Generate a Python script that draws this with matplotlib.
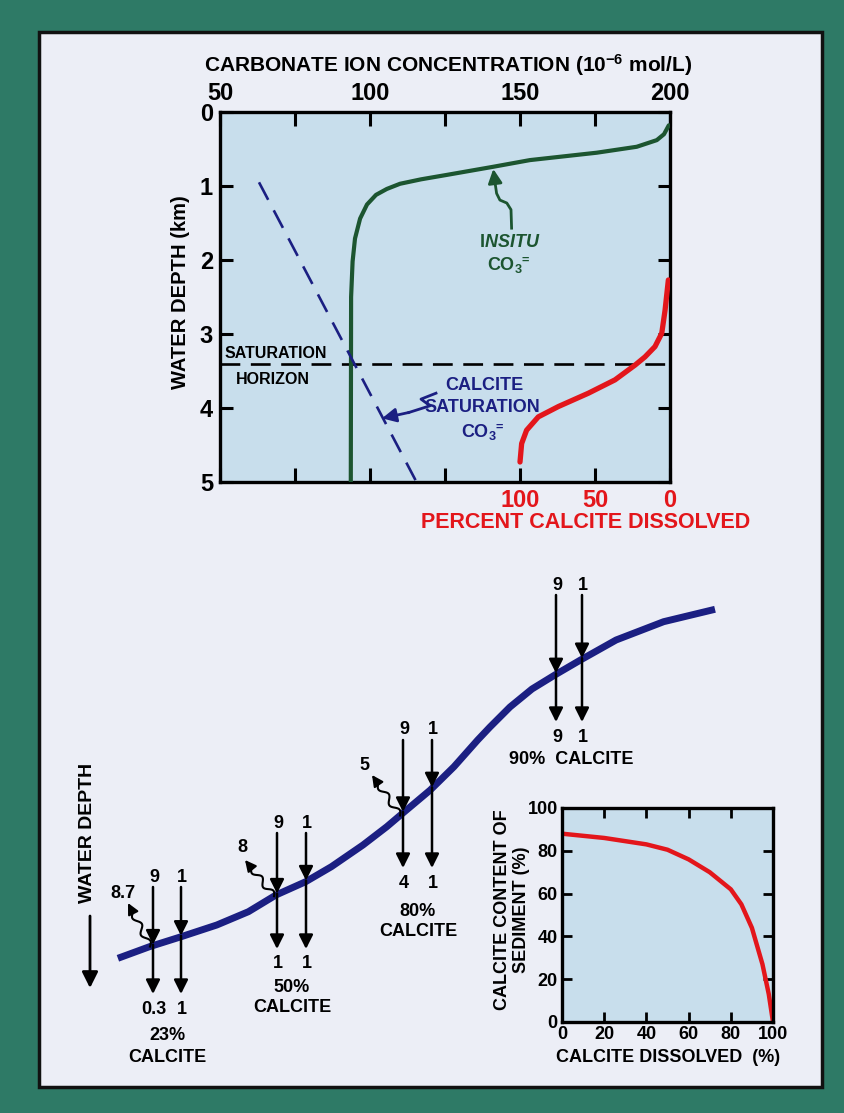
import numpy as np
import matplotlib
matplotlib.use('Agg')
import matplotlib.pyplot as plt
from matplotlib.patches import Rectangle, FancyArrowPatch

plt.rcParams['font.family'] = ['Liberation Sans', 'DejaVu Sans']
plt.rcParams['font.weight'] = 'bold'
plt.rcParams['mathtext.fontset'] = 'custom'
plt.rcParams['mathtext.rm'] = 'Liberation Sans:bold'
plt.rcParams['mathtext.it'] = 'Liberation Sans:italic:bold'
plt.rcParams['mathtext.bf'] = 'Liberation Sans:bold'
plt.rcParams['mathtext.default'] = 'rm'

# ---- data: top panel (carbonate ion vs depth)
insitu_conc = [199.6, 198, 195.6, 188.9, 175.6, 153.3, 141.1, 125.6, 117, 110, 105.6, 102, 99, 96.7, 95, 94.2, 93.7, 93.6]
insitu_depth = [0.18, 0.30, 0.38, 0.47, 0.55, 0.65, 0.74, 0.85, 0.91, 0.97, 1.04, 1.12, 1.25, 1.44, 1.71, 2.02, 2.5, 5.0]
satur_conc = [63, 115.5]
satur_depth = [0.95, 5.0]
horizon_depth = 3.41
dissolved_pct = [1.1, 3.3, 5.5, 10, 16.7, 23.3, 36.7, 54.4, 74.4, 87.8, 95.6, 98.9, 100]
dissolved_depth = [2.27, 2.68, 2.99, 3.17, 3.31, 3.42, 3.62, 3.80, 3.98, 4.12, 4.30, 4.48, 4.73]
conc_ticks = [50, 100, 150, 200]
conc_minor = [75, 125, 175]
depth_ticks = [0, 1, 2, 3, 4, 5]
pct_ticks = [100, 50, 0]

# ---- data: inset (calcite content vs dissolved)
diss_x = [0, 20, 40, 50, 60, 70, 80, 85, 90, 95, 98, 100]
content_y = [88, 86, 83, 80.5, 76, 70, 62, 55, 44, 27, 13, 0]
inset_ticks = [0, 20, 40, 60, 80, 100]

# ---- data: bottom schematic (sea floor profile, pixel units)
floor_x = [117.9, 149.5, 181.2, 216.8, 248.4, 276, 305.7, 331.4, 363, 386.8, 402.6,
           430.3, 454, 477.7, 490, 510, 532, 554.8, 580.5, 616.1, 663.6, 715]
floor_y = [958.3, 946.7, 936.7, 925, 911.7, 895, 881.7, 866.7, 845, 826.7, 813.3,
           790, 766.7, 740, 727, 707, 689, 675, 660, 640, 621.7, 609.3]
rain_left = ['9', '9', '9', '9']
rain_right = ['1', '1', '1', '1']
kept_left = ['0.3', '1', '4', '9']
kept_right = ['1', '1', '1', '1']
dissolved_lbl = ['8.7', '8', '5']
calcite_pct = ['23%', '50%', '80%', '90%']

# ---- layout (pixels)
W, H = 844, 1113
GREEN = '#2e7a66'
PANEL = '#eceef6'
AXBG = '#c8deec'
DKGREEN = '#1c5530'
NAVY = '#1b1f82'
RED = '#e3161b'

fig = plt.figure(figsize=(W / 100, H / 100), dpi=100, facecolor=GREEN)
bg = fig.add_axes([0, 0, 1, 1])
bg.set_xlim(0, W)
bg.set_ylim(H, 0)
bg.axis('off')
bg.add_patch(Rectangle((39, 32), 783, 1055, facecolor=PANEL, edgecolor='#111111', lw=2.5))


def px_axes(l, t, r, b):
    return fig.add_axes([l / W, 1 - b / H, (r - l) / W, (b - t) / H])


def arrow(a, p0, p1, color='k', lw=1.8, ms=14):
    a.add_patch(FancyArrowPatch(p0, p1, arrowstyle='-|>,head_length=0.6,head_width=0.3',
                                mutation_scale=ms, lw=lw, color=color,
                                shrinkA=0, shrinkB=0, zorder=5))


def wavy(a, p0, p1, amp=3.0, waves=2.0):
    p0 = np.array(p0, float)
    p1 = np.array(p1, float)
    d = p1 - p0
    L = np.hypot(*d)
    n = np.array([-d[1], d[0]]) / L
    t = np.linspace(0, 0.78, 60)
    off = amp * np.sin(2 * np.pi * waves * t / 0.78)
    pts = p0[None, :] + t[:, None] * d[None, :] + off[:, None] * n[None, :]
    a.plot(pts[:, 0], pts[:, 1], color='k', lw=1.5, zorder=5)
    arrow(a, tuple(pts[-1]), tuple(p1), lw=1.5, ms=11)


def co3(a, x, y, color, size=13):
    # CO3 with a small raised "=" sign (carbonate ion)
    a.annotate(r'CO$_3$', (x, y), xytext=(-4, 0), textcoords='offset points',
               fontsize=size, color=color, ha='center', va='center')
    a.annotate('=', (x, y), xytext=(8.5, 3.5), textcoords='offset points',
               fontsize=size * 0.7, color=color, ha='left', va='center')


# ================= top panel =================
ax = px_axes(220, 112, 670, 482)
ax.set_facecolor(AXBG)
ax.set_xlim(50, 200)
ax.set_ylim(5, 0)

# red percent scale shares the same box (0 % at 200, 100 % at 150)
axr = ax.twiny()
axr.set_xlim(300, 0)
axr.set_ylim(5, 0)
axr.patch.set_visible(False)
for s in axr.spines.values():
    s.set_visible(False)
axr.xaxis.set_ticks_position('bottom')
axr.set_xticks(pct_ticks)
axr.tick_params(axis='x', length=0, labelcolor=RED, labelsize=17, pad=5)
axr.plot(dissolved_pct, dissolved_depth, color=RED, lw=3.8, solid_capstyle='round', zorder=3)

for s in ax.spines.values():
    s.set_linewidth(2.4)
ax.set_xticks(conc_ticks)
ax.set_xticks(conc_minor, minor=True)
ax.set_yticks(depth_ticks)
ax.tick_params(axis='x', which='both', direction='in', top=True, bottom=True,
               labeltop=True, labelbottom=False, length=10, width=2.2, labelsize=17, pad=5)
ax.tick_params(axis='y', direction='in', left=True, right=True, length=9, width=2.2,
               labelsize=17, pad=5)

ax.plot(insitu_conc, insitu_depth, color=DKGREEN, lw=3, solid_capstyle='round',
        solid_joinstyle='round', zorder=3)
ax.plot(satur_conc, satur_depth, color=NAVY, lw=1.9, dashes=(7.5, 4.5), zorder=3)
ax.axhline(horizon_depth, color='k', lw=1.9, dashes=(7.5, 4), zorder=2)

# labels inside top panel
ax.text(68.5, 3.27, 'SATURATION', fontsize=11.5, ha='center', va='center', zorder=4)
ax.text(67.7, 3.62, 'HORIZON', fontsize=11.5, ha='center', va='center', zorder=4)
ax.text(146.7, 1.77, r'I$\mathit{NSITU}$', fontsize=13, color=DKGREEN, ha='center', va='center')
co3(ax, 146.7, 2.07, DKGREEN)
ax.text(138, 3.70, 'CALCITE', fontsize=13, color=NAVY, ha='center', va='center')
ax.text(137.5, 4.0, 'SATURATION', fontsize=13, color=NAVY, ha='center', va='center')
co3(ax, 138, 4.33, NAVY)

g_path = np.array([(147.2, 1.57), (147.0, 1.32), (145.6, 1.23), (143.3, 1.19),
                   (142.2, 1.10), (141.7, 0.96)])
ax.plot(g_path[:, 0], g_path[:, 1], color=DKGREEN, lw=2, zorder=4)
arrow(ax, tuple(g_path[-1]), (141.1, 0.77), color=DKGREEN, lw=2, ms=14)

b_path = np.array([(122, 3.80), (117, 3.88), (120, 3.97), (113, 4.06)])
ax.plot(b_path[:, 0], b_path[:, 1], color=NAVY, lw=2, zorder=4)
arrow(ax, tuple(b_path[-1]), (104, 4.14), color=NAVY, lw=2, ms=14)

bg.text(448, 65, r'CARBONATE ION CONCENTRATION (10$^{-6}$ mol/L)', fontsize=15,
        ha='center', va='center')
bg.text(180, 292, 'WATER DEPTH (km)', fontsize=14.5, rotation=90, ha='center', va='center')
bg.text(586, 523, 'PERCENT CALCITE DISSOLVED', fontsize=15.5, color=RED, ha='center', va='center')

# ================= bottom schematic =================
bg.plot(floor_x, floor_y, color=NAVY, lw=5, solid_capstyle='butt', solid_joinstyle='round', zorder=3)

left_x = [153, 277, 403, 556]
right_x = [181, 306, 432, 582]
top_y = [887, 833, 740, 595]
bot_y = [994, 949, 868, 722]
for i in range(4):
    for x, tl, bl in [(left_x[i], rain_left[i], kept_left[i]),
                      (right_x[i], rain_right[i], kept_right[i])]:
        yc = np.interp(x, floor_x, floor_y)
        arrow(bg, (x, top_y[i]), (x, yc - 1))
        arrow(bg, (x, yc - 1), (x, bot_y[i]))
        bg.text(x + 1, top_y[i] - 10, tl, fontsize=13, ha='center', va='center')
        bg.text(x + 1, bot_y[i] + 15, bl, fontsize=13, ha='center', va='center')

tips = [(128, 903), (245, 860), (372, 775)]
lbl_pos = [(123, 893), (242, 848), (364, 765)]
for i in range(3):
    yc = np.interp(left_x[i] - 3, floor_x, floor_y)
    wavy(bg, (left_x[i] - 3, yc), tips[i])
    bg.text(lbl_pos[i][0], lbl_pos[i][1], dissolved_lbl[i], fontsize=13, ha='center', va='center')

pct_pos = [(167, 1035, 1057), (292, 987, 1008), (418, 911, 932)]
for i in range(3):
    cx, y1, y2 = pct_pos[i]
    bg.text(cx, y1, calcite_pct[i], fontsize=13, ha='center', va='center')
    bg.text(cx, y2, 'CALCITE', fontsize=13, ha='center', va='center')
bg.text(571, 760, calcite_pct[3] + '  CALCITE', fontsize=13, ha='center', va='center')

bg.text(88, 833, 'WATER DEPTH', fontsize=14, rotation=90, ha='center', va='center')
arrow(bg, (90, 916), (90, 988), lw=2, ms=16)

# ================= inset =================
ins = px_axes(562, 808, 773, 1022)
ins.set_facecolor(AXBG)
ins.set_xlim(0, 100)
ins.set_ylim(0, 100)
for s in ins.spines.values():
    s.set_linewidth(2.4)
ins.set_xticks(inset_ticks)
ins.set_yticks(inset_ticks)
ins.tick_params(direction='in', top=True, right=True, length=7, width=2, labelsize=13, pad=3)
ins.plot(diss_x, content_y, color=RED, lw=3.2, solid_capstyle='butt', solid_joinstyle='round')
bg.text(668, 1058, 'CALCITE DISSOLVED  (%)', fontsize=13, ha='center', va='center')
bg.text(512, 910, 'CALCITE CONTENT OF\nSEDIMENT (%)', fontsize=13, rotation=90,
        ha='center', va='center', linespacing=1.15)

fig.savefig('out.png', dpi=100, facecolor=fig.get_facecolor())
